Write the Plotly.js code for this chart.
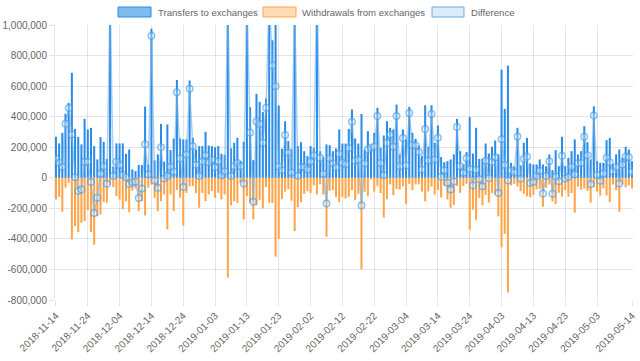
<!DOCTYPE html>
<html>
<head>
<meta charset="utf-8">
<script src="https://cdn.plot.ly/plotly-3.0.1.min.js"></script>
<style>html,body{margin:0;padding:0;background:#fff;}#chart{width:640px;height:361px;}</style>
</head>
<body>
<div id="chart"></div>
<script>
const dates = [
"2018-11-14","2018-11-15","2018-11-16","2018-11-17","2018-11-18","2018-11-19","2018-11-20","2018-11-21","2018-11-22","2018-11-23",
"2018-11-24","2018-11-25","2018-11-26","2018-11-27","2018-11-28","2018-11-29","2018-11-30",
"2018-12-01","2018-12-02","2018-12-03","2018-12-04","2018-12-05","2018-12-06","2018-12-07","2018-12-08","2018-12-09","2018-12-10",
"2018-12-11","2018-12-12","2018-12-13","2018-12-14","2018-12-15","2018-12-16","2018-12-17","2018-12-18","2018-12-19","2018-12-20",
"2018-12-21","2018-12-22","2018-12-23","2018-12-24","2018-12-25","2018-12-26","2018-12-27","2018-12-28","2018-12-29","2018-12-30","2018-12-31",
"2019-01-01","2019-01-02","2019-01-03","2019-01-04","2019-01-05","2019-01-06","2019-01-07","2019-01-08","2019-01-09","2019-01-10",
"2019-01-11","2019-01-12","2019-01-13","2019-01-14","2019-01-15","2019-01-16","2019-01-17","2019-01-18","2019-01-19","2019-01-20",
"2019-01-21","2019-01-22","2019-01-23","2019-01-24","2019-01-25","2019-01-26","2019-01-27","2019-01-28","2019-01-29","2019-01-30","2019-01-31",
"2019-02-01","2019-02-02","2019-02-03","2019-02-04","2019-02-05","2019-02-06","2019-02-07","2019-02-08","2019-02-09","2019-02-10",
"2019-02-11","2019-02-12","2019-02-13","2019-02-14","2019-02-15","2019-02-16","2019-02-17","2019-02-18","2019-02-19","2019-02-20",
"2019-02-21","2019-02-22","2019-02-23","2019-02-24","2019-02-25","2019-02-26","2019-02-27","2019-02-28",
"2019-03-01","2019-03-02","2019-03-03","2019-03-04","2019-03-05","2019-03-06","2019-03-07","2019-03-08","2019-03-09","2019-03-10",
"2019-03-11","2019-03-12","2019-03-13","2019-03-14","2019-03-15","2019-03-16","2019-03-17","2019-03-18","2019-03-19","2019-03-20",
"2019-03-21","2019-03-22","2019-03-23","2019-03-24","2019-03-25","2019-03-26","2019-03-27","2019-03-28","2019-03-29","2019-03-30","2019-03-31",
"2019-04-01","2019-04-02","2019-04-03","2019-04-04","2019-04-05","2019-04-06","2019-04-07","2019-04-08","2019-04-09","2019-04-10",
"2019-04-11","2019-04-12","2019-04-13","2019-04-14","2019-04-15","2019-04-16","2019-04-17","2019-04-18","2019-04-19","2019-04-20",
"2019-04-21","2019-04-22","2019-04-23","2019-04-24","2019-04-25","2019-04-26","2019-04-27","2019-04-28","2019-04-29","2019-04-30",
"2019-05-01","2019-05-02","2019-05-03","2019-05-04","2019-05-05","2019-05-06","2019-05-07","2019-05-08","2019-05-09","2019-05-10",
"2019-05-11","2019-05-12","2019-05-13","2019-05-14"
];

const transfersToExchanges = [
268000,225000,294000,419000,490000,687000,320000,268000,218000,386000,
316000,327000,207000,120000,266000,235000,124000,1200000,72000,225000,
225000,225000,157000,185000,55000,44000,85000,83000,466000,87000,
975000,113000,153000,353000,105000,349000,181000,257000,640000,257000,
251000,251000,637000,262000,185000,207000,207000,301000,211000,207000,
200000,207000,157000,150000,1800000,192000,229000,262000,110000,235000,
1300000,462000,115000,549000,497000,430000,519000,1350000,900000,1115000,
473000,190000,370000,240000,185000,1500000,207000,233000,174000,142000,
207000,196000,1400000,174000,137000,218000,213000,174000,192000,316000,
224000,224000,320000,447000,257000,224000,418000,185000,305000,207000,
294000,458000,196000,277000,370000,327000,316000,479000,153000,316000,
251000,464000,294000,255000,211000,142000,475000,203000,475000,229000,
342000,135000,102000,109000,120000,153000,386000,174000,87000,168000,
397000,159000,327000,124000,124000,224000,159000,203000,244000,153000,
708000,451000,734000,98000,76000,327000,81000,229000,261000,94000,
87000,87000,120000,87000,76000,153000,50000,181000,76000,268000,
76000,131000,174000,251000,153000,174000,338000,233000,120000,468000,
109000,98000,98000,246000,261000,87000,153000,185000,131000,203000,
185000,109000
];

const withdrawalsFromExchanges = [
-142000,-126000,-222000,-65000,-33000,-403000,-316000,-355000,-294000,-283000,
-211000,-355000,-438000,-251000,-240000,-159000,-163000,-46000,-60000,-120000,
-142000,-207000,-153000,-225000,-85000,-70000,-218000,-153000,-246000,-65000,
-45000,-131000,-218000,-153000,-109000,-338000,-109000,-218000,-80000,-130000,
-312000,-98000,-55000,-55000,-100000,-196000,-100000,-153000,-109000,-87000,
-131000,-98000,-142000,-109000,-654000,-181000,-153000,-165000,-35000,-272000,
-120000,-165000,-272000,-180000,-145000,-200000,-60000,-163000,-165000,-516000,
-399000,-140000,-90000,-75000,-150000,-349000,-193000,-160000,-105000,-88000,
-100000,-50000,-109000,-43000,-110000,-386000,-85000,-80000,-125000,-159000,
-125000,-135000,-125000,-80000,-145000,-105000,-599000,-92000,-120000,-11000,
-90000,-53000,-100000,-260000,-140000,-44000,-113000,-74000,-77000,-55000,
-170000,-40000,-80000,-44000,-43000,-90000,-155000,-90000,-57000,-110000,
-80000,-128000,-52000,-142000,-196000,-177000,-53000,-98000,-54000,-40000,
-340000,-209000,-275000,-133000,-180000,-112000,-162000,-100000,-109000,-253000,
-455000,-367000,-751000,-50000,-40000,-57000,-88000,-105000,-122000,-128000,
-113000,-76000,-74000,-190000,-65000,-44000,-155000,-172000,-98000,-123000,
-80000,-124000,-100000,-229000,-58000,-78000,-70000,-86000,-162000,-60000,
-90000,-118000,-70000,-115000,-159000,-45000,-82000,-222000,-44000,-63000,
-50000,-70000
];

// Difference = transfers to exchanges + (negative) withdrawals, as plotted in the source chart
const difference = transfersToExchanges.map((v, i) => v + withdrawalsFromExchanges[i]);

const xTickLabels = ["2018-11-14","2018-11-24","2018-12-04","2018-12-14","2018-12-24","2019-01-03","2019-01-13","2019-01-23","2019-02-02","2019-02-12","2019-02-22","2019-03-04","2019-03-14","2019-03-24","2019-04-03","2019-04-13","2019-04-23","2019-05-03","2019-05-14"];
const yTickValues = [-800000,-600000,-400000,-200000,0,200000,400000,600000,800000,1000000];
const yTickLabels = ["-800,000","-600,000","-400,000","-200,000","0","200,000","400,000","600,000","800,000","1,000,000"];
const seriesNames = ["Transfers to exchanges","Withdrawals from exchanges","Difference"];

const traces = [
  {type:'bar', x:dates, y:transfersToExchanges, name:seriesNames[0],
   marker:{color:'#2a8ce8', line:{width:0}}, hoverinfo:'x+y'},
  {type:'bar', x:dates, y:withdrawalsFromExchanges, name:seriesNames[1],
   marker:{color:'#ffa448', line:{width:0}}, hoverinfo:'x+y'},
  {type:'scatter', mode:'lines+markers', x:dates, y:difference, name:seriesNames[2],
   line:{color:'rgba(110,175,232,0.6)', width:1.5},
   marker:{symbol:'circle', size:6.5, color:'rgba(210,232,250,0.35)', line:{color:'rgba(70,155,230,0.6)', width:1.5}}}
];

// legend drawn as boxes + text above the plot (paper coordinates)
const plotL = 55, plotR = 633, plotT = 25, plotB = 300;
const px = v => (v - plotL) / (plotR - plotL);
const py = v => (plotB - v) / (plotB - plotT);
const legendItems = [
  {x0:118, x1:151, tx:156, fill:'rgba(42,140,232,0.6)', border:'#2a8ce8'},
  {x0:263, x1:296, tx:300, fill:'rgba(255,164,72,0.4)', border:'#ffa448'},
  {x0:432, x1:464, tx:469, fill:'rgba(110,175,232,0.25)', border:'rgba(70,155,230,0.8)'}
];
const shapes = legendItems.map(it => ({type:'rect', xref:'paper', yref:'paper',
  x0:px(it.x0), x1:px(it.x1), y0:py(17), y1:py(7), fillcolor:it.fill, line:{color:it.border, width:1}}));
const annotations = legendItems.map((it, i) => ({xref:'paper', yref:'paper', x:px(it.tx), y:py(12.5),
  xanchor:'left', yanchor:'middle', showarrow:false, text:seriesNames[i], font:{size:9.6, color:'#666'}}));

const layout = {
  width:640, height:361,
  margin:{l:plotL, r:640-plotR, t:plotT, b:361-plotB},
  paper_bgcolor:'#fff', plot_bgcolor:'#fff',
  font:{family:'"Liberation Sans", Arial, sans-serif', size:10, color:'#666'},
  showlegend:false,
  barmode:'relative', bargap:0.36,
  xaxis:{type:'category', range:[-0.3, dates.length - 0.7], tickmode:'array', tickvals:xTickLabels, ticktext:xTickLabels,
         tickangle:-45, showgrid:true, gridcolor:'rgba(0,0,0,0.1)', gridwidth:1, ticks:'outside', ticklen:5,
         tickcolor:'rgba(0,0,0,0.1)', zeroline:false, showline:false, tickfont:{size:10, color:'#666'}},
  yaxis:{range:[-800000, 1000000], tickmode:'array', tickvals:yTickValues, ticktext:yTickLabels,
         showgrid:true, gridcolor:'rgba(0,0,0,0.1)', gridwidth:1, zeroline:false, ticks:'outside', ticklen:5,
         tickcolor:'rgba(0,0,0,0.1)', showline:true, linecolor:'rgba(0,0,0,0.1)', tickfont:{size:10, color:'#666'}},
  shapes:shapes, annotations:annotations
};

Plotly.newPlot('chart', traces, layout, {displayModeBar:false, staticPlot:true});
</script>
</body>
</html>
